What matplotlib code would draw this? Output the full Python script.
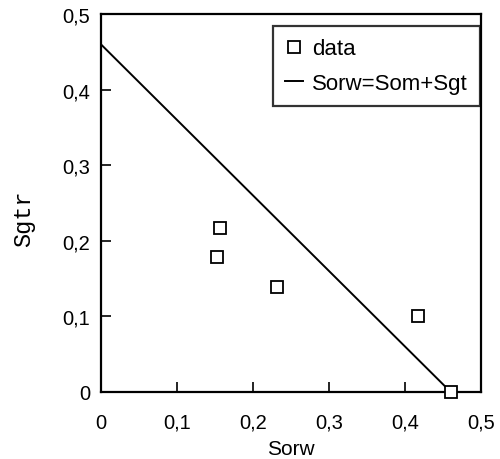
import matplotlib
matplotlib.use("Agg")
from matplotlib import pyplot as plt

# data
sorw = [0.153, 0.157, 0.232, 0.417, 0.46]
sgtr = [0.178, 0.217, 0.139, 0.100, 0.0]
line_x = [0.0, 0.46]
line_y = [0.46, 0.0]
ticks = [0, 0.1, 0.2, 0.3, 0.4, 0.5]
tick_labels = ["0", "0,1", "0,2", "0,3", "0,4", "0,5"]

plt.rcParams['font.family'] = ['Liberation Sans', 'DejaVu Sans']

fig = plt.figure(figsize=(5, 4.6), dpi=100)
ax = fig.add_axes([0.202, 0.146, 0.76, 0.821])

ax.plot(sorw, sgtr, linestyle="none", marker="s", markersize=8,
        markerfacecolor="white", markeredgecolor="black", markeredgewidth=1.3,
        clip_on=False, zorder=3, label="data")
ax.plot(line_x, line_y, color="black", linewidth=1.4, label="Sorw=Som+Sgt")

ax.set_xlim(0, 0.5)
ax.set_ylim(0, 0.5)
ax.set_xticks(ticks)
ax.set_yticks(ticks)
ax.set_xticklabels(tick_labels, fontsize=14.5)
ax.set_yticklabels(tick_labels, fontsize=14.5)
ax.tick_params(direction="in", length=7, width=1.2)
ax.tick_params(axis="x", pad=15)
ax.tick_params(axis="y", pad=8)

for s in ax.spines.values():
    s.set_linewidth(1.6)

ax.set_xlabel("Sorw", fontsize=15)
ax.xaxis.set_label_coords(0.5, -0.125)
ax.set_ylabel("Sgtr", fontsize=17, family="Liberation Mono")
ax.yaxis.set_label_coords(-0.172, 0.46)

leg = ax.legend(loc="upper right", fontsize=16, frameon=True, fancybox=False,
                edgecolor="black", handlelength=0.8, handletextpad=0.4,
                borderpad=0.55, labelspacing=0.6, borderaxespad=0,
                bbox_to_anchor=(0.997, 0.968))
leg.get_frame().set_linewidth(1.6)
for h in leg.legend_handles:
    if hasattr(h, "set_markersize"):
        h.set_markersize(9)

plt.savefig("out.png", dpi=100)
